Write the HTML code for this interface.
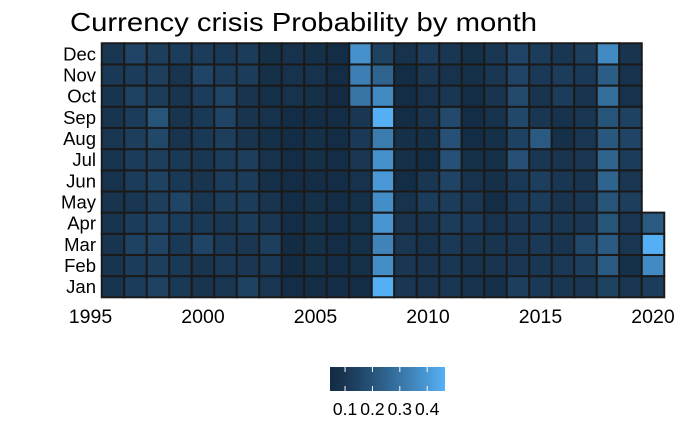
<!DOCTYPE html>
<html><head><meta charset="utf-8"><style>
body{margin:0;background:#fff;}
svg text{font-family:"Liberation Sans",Arial,sans-serif;}
</style></head><body>
<svg id="chart" width="700" height="432">
<text x="70" y="31" font-size="26" textLength="467" lengthAdjust="spacingAndGlyphs" fill="#000">Currency crisis Probability by month</text>
<g id="tiles"></g>
<g id="yaxis"></g>
<g id="xaxis"></g>
<g id="legend"></g>
</svg>
<script>
const months = ["Jan","Feb","Mar","Apr","May","Jun","Jul","Aug","Sep","Oct","Nov","Dec"];
const years = [1996,1997,1998,1999,2000,2001,2002,2003,2004,2005,2006,2007,2008,2009,2010,2011,2012,2013,2014,2015,2016,2017,2018,2019,2020];
const xTicks = [1995,2000,2005,2010,2015,2020];
const legendTicks = [0.1,0.2,0.3,0.4];
const valDec = [.10,.15,.13,.12,.12,.11,.12,.07,.08,.07,.06,.38,.14,.08,.12,.10,.07,.10,.15,.12,.10,.13,.36,.09];
const valNov = [.11,.12,.13,.09,.15,.12,.12,.07,.08,.08,.06,.33,.25,.06,.10,.08,.07,.10,.15,.11,.12,.11,.23,.08];
const valOct = [.09,.14,.12,.09,.12,.15,.09,.07,.08,.07,.05,.30,.36,.06,.08,.10,.06,.09,.17,.09,.12,.09,.28,.08];
const valSep = [.09,.12,.20,.09,.11,.15,.09,.08,.06,.06,.06,.10,.46,.06,.09,.17,.06,.08,.16,.10,.08,.10,.20,.14];
const valAug = [.10,.13,.16,.09,.11,.13,.09,.07,.06,.07,.06,.11,.32,.07,.07,.19,.06,.07,.14,.22,.07,.10,.21,.15];
const valJul = [.09,.12,.13,.11,.10,.12,.13,.08,.06,.07,.06,.10,.38,.07,.06,.19,.07,.07,.19,.10,.09,.10,.25,.12];
const valJun = [.08,.12,.14,.11,.09,.12,.12,.07,.06,.06,.06,.08,.40,.06,.10,.15,.08,.07,.11,.13,.10,.09,.25,.10];
const valMay = [.09,.10,.13,.15,.10,.12,.12,.09,.06,.07,.06,.07,.37,.08,.12,.12,.10,.06,.11,.12,.09,.10,.20,.13];
const valApr = [.09,.12,.14,.12,.11,.10,.12,.10,.06,.07,.06,.07,.39,.09,.09,.12,.11,.08,.10,.11,.10,.10,.20,.10,.22];
const valMar = [.09,.14,.15,.11,.15,.11,.10,.13,.05,.07,.06,.07,.34,.10,.08,.11,.09,.09,.10,.11,.09,.16,.22,.10,.46];
const valFeb = [.09,.12,.13,.11,.09,.11,.10,.11,.05,.07,.06,.07,.37,.10,.09,.10,.08,.09,.10,.10,.11,.13,.22,.07,.36];
const valJan = [.09,.12,.14,.11,.09,.10,.14,.10,.06,.06,.06,.06,.46,.10,.09,.10,.08,.07,.13,.11,.10,.10,.14,.10,.12];
const values = [valJan,valFeb,valMar,valApr,valMay,valJun,valJul,valAug,valSep,valOct,valNov,valDec];

const NS="http://www.w3.org/2000/svg";
const vMin=0.045, vMax=0.465;
const xPx = y => 90.5 + (y-1995)*22.5;
const rowH = 21.17, bottom = 297.3;
const yPx = m => bottom - (m+0.5)*rowH;
function color(v){
  let t=Math.max(0,Math.min(1,(v-vMin)/(vMax-vMin)));
  t=Math.pow(t,1.2);
  const a=[0x13,0x2B,0x43], b=[0x56,0xB1,0xF7];
  return "rgb("+a.map((c,i)=>Math.round(c+(b[i]-c)*t)).join(",")+")";
}
function mk(tag,attrs,parent){const e=document.createElementNS(NS,tag);for(const k in attrs)e.setAttribute(k,attrs[k]);parent.appendChild(e);return e;}
const tiles=document.getElementById("tiles");
values.forEach((row,m)=>{
  row.forEach((v,i)=>{
    const yr=years[i];
    const r=mk("rect",{x:xPx(yr-0.5),y:yPx(m)-rowH/2,width:22.5,height:rowH,fill:color(v),stroke:"#1a1a1a","stroke-width":2},tiles);
    
    
  });
});
const ya=document.getElementById("yaxis");
months.forEach((mn,m)=>{
  const t=mk("text",{x:96,y:yPx(m)+6.5,"font-size":18.5,"text-anchor":"end",fill:"#000"},ya);
  t.textContent=mn;
  
  
});
const xa=document.getElementById("xaxis");
xTicks.forEach(y=>{
  const t=mk("text",{x:xPx(y),y:323,"font-size":19.5,"text-anchor":"middle",fill:"#000"},xa);
  t.textContent=y;
  
  
});
const lg=document.getElementById("legend");
const defs=mk("defs",{},lg);
const grad=mk("linearGradient",{id:"lgrad",x1:0,x2:1,y1:0,y2:0},defs);
for(let i=0;i<=10;i++){const v=vMin+(vMax-vMin)*i/10;mk("stop",{offset:(i*10)+"%","stop-color":color(v)},grad);}
const lx = v => 330 + (v-vMin)/(vMax-vMin)*115;
const bar=mk("rect",{x:330,y:367,width:115,height:24,fill:"url(#lgrad)"},lg);


legendTicks.forEach(v=>{
  mk("line",{x1:lx(v),x2:lx(v),y1:367,y2:372,stroke:"#fff","stroke-width":1},lg);
  mk("line",{x1:lx(v),x2:lx(v),y1:386,y2:391,stroke:"#fff","stroke-width":1},lg);
  const t=mk("text",{x:lx(v),y:415,"font-size":17.5,"text-anchor":"middle",fill:"#000"},lg);
  t.textContent=v.toFixed(1);
  
  
});
</script>
</body></html>
